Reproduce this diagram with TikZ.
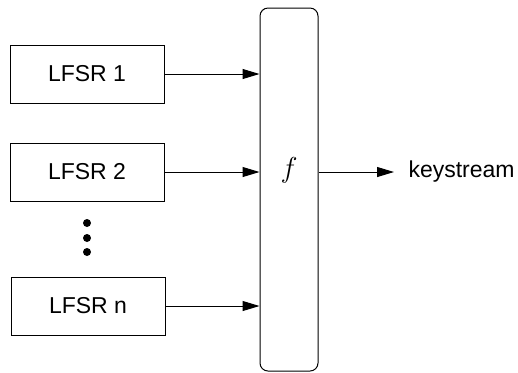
\documentclass[tikz,border=0pt]{standalone}
\usepackage{fontspec}
\setmainfont{Liberation Sans}
\usetikzlibrary{arrows.meta}

\tikzset{
  reg/.style={draw, minimum width=77pt, minimum height=29pt, inner sep=0pt},
  feed/.style={-{Triangle[length=8.5pt,width=5pt]}},
}

\begin{document}
\begin{tikzpicture}[x=0.5pt, y=-0.5pt, line width=0.5pt, font=\fontsize{11.5}{13}\selectfont]
\useasboundingbox (0,0) rectangle (518,372);

\node[reg] (lfsr1) at (87,74) {LFSR 1};
\node[reg] (lfsr2) at (87,172) {LFSR 2};
\node[reg] (lfsrn) at (88,306) {LFSR n};
\foreach \y in {223,238,252} \fill (87,\y) circle (2pt);

\node[draw, rounded corners=4pt, minimum width=29pt, minimum height=181.5pt, inner sep=0pt] (fbox) at (289,189.5) {};
\node[font=\fontsize{13.5}{15}\selectfont] (flabel) at (289,170) {$f$};

\draw[feed] (lfsr1.east) -- (lfsr1.east -| fbox.west);
\draw[feed] (lfsr2.east) -- (lfsr2.east -| fbox.west);
\draw[feed] (lfsrn.east) -- (lfsrn.east -| fbox.west);

\node[anchor=west, inner xsep=7pt] (ks) at (394,172) {keystream};
\draw[feed] (fbox.east |- ks.west) -- (ks.west);
\end{tikzpicture}
\end{document}
